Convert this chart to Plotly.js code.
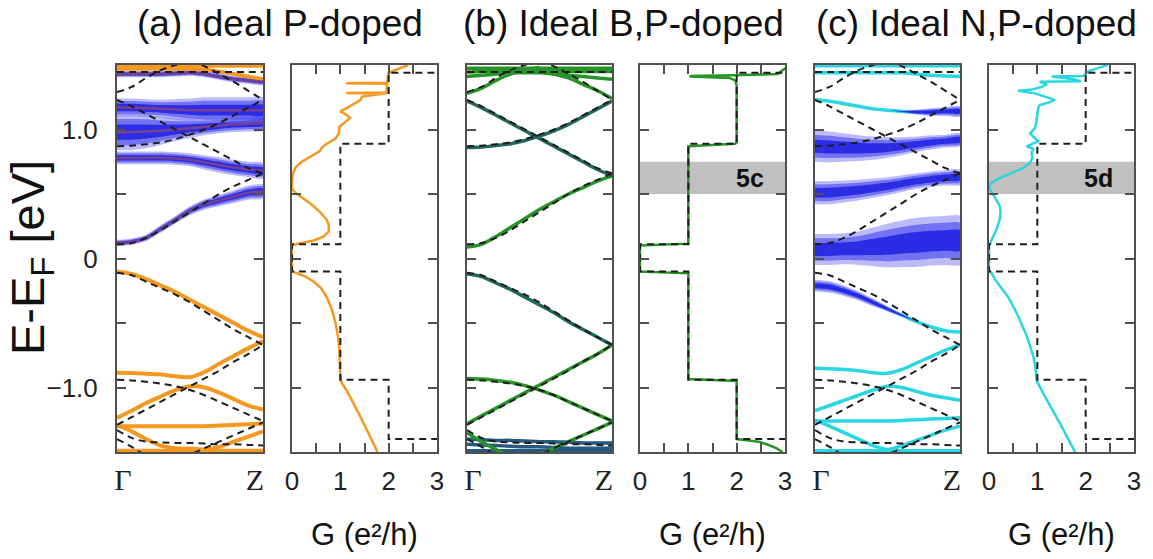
<!DOCTYPE html>
<html><head><meta charset="utf-8">
<script src="https://cdn.plot.ly/plotly-3.0.1.min.js"></script>
<style>html,body{margin:0;padding:0;background:#fff}#chart{width:1153px;height:559px}</style>
</head><body><div id="chart"></div>
<script>
// ---------------- DATA ----------------
const panelTitles = ['(a) Ideal P-doped', '(b) Ideal B,P-doped', '(c) Ideal N,P-doped'];
const bandTickText = ['Γ', 'Z'];
const gTickVals = [0, 1, 2, 3];
const gTickText = ['0', '1', '2', '3'];
const gMinorTicks = [0.5, 1.5, 2.5];
const eTickVals = [-1, 0, 1];
const eTickText = ['\u22121.0', '0', '1.0'];
const eMinorTicks = [-0.5, 0.5];
const windowLabels = ['5c', '5d'];
const highlightWindow = [0.5, 0.75];
const gAxisTitle = 'G (e\u00B2/h)';
const eAxisTitle = 'E-E<sub>F</sub> [eV]';

const kGrid = [0, 0.1, 0.2, 0.3, 0.4, 0.5, 0.6, 0.7, 0.8, 0.9, 1.0];
const kFirstHalf = [0, 0.1, 0.2, 0.3, 0.4, 0.5];
const kSecondHalf = [0.5, 0.6, 0.7, 0.8, 0.9, 1.0];
const kStart = [0, 0.1, 0.2, 0.25];
const kEnd = [0.45, 0.5, 0.6, 0.7, 0.8, 0.9, 1.0];

// pristine (dashed) bands, E (eV) on kGrid unless noted
const pristineC1 = [0.11, 0.12, 0.16, 0.22, 0.29, 0.36, 0.43, 0.50, 0.56, 0.61, 0.66];
const pristineC2 = [1.23, 1.18, 1.12, 1.06, 1.00, 0.94, 0.88, 0.82, 0.76, 0.70, 0.66];
const pristineC3 = [0.87, 0.875, 0.885, 0.90, 0.925, 0.96, 1.00, 1.05, 1.11, 1.17, 1.23];
const pristineC4 = [1.29, 1.33, 1.40, 1.46, 1.50, 1.53];            // kFirstHalf
const pristineC5 = [1.53, 1.49, 1.43, 1.37, 1.30, 1.23];            // kSecondHalf
const pristineC6 = [1.445, 1.445, 1.445, 1.445, 1.445, 1.445, 1.445, 1.445, 1.445, 1.445, 1.445];
const pristineV1 = [-0.11, -0.13, -0.18, -0.23, -0.28, -0.34, -0.41, -0.48, -0.55, -0.61, -0.67];
const pristineV2 = [-0.94, -0.945, -0.955, -0.97, -0.99, -1.02, -1.06, -1.11, -1.16, -1.21, -1.26];
const pristineV3 = [-1.29, -1.23, -1.17, -1.11, -1.05, -0.99, -0.93, -0.87, -0.80, -0.74, -0.67];
const pristineV4 = [-1.33, -1.39, -1.42, -1.425, -1.43, -1.43, -1.435, -1.44, -1.44, -1.445, -1.45];
const pristineV5 = [-1.55, -1.52, -1.47, -1.42, -1.37, -1.32, -1.27];  // kEnd
const pristineV6 = [-1.40, -1.46, -1.53, -1.56];                       // kStart

// pristine conductance (staircase)
const gPristineE = [-1.5, -1.40, -1.40, -0.94, -0.94, -0.10, -0.10, 0.11, 0.11, 0.89, 0.89, 1.44, 1.44, 1.5];
const gPristineG = [4, 4, 2, 2, 1, 1, 0, 0, 1, 1, 2, 2, 4, 4];

// (a) P-doped bands
const aV1 = [-0.10, -0.12, -0.16, -0.21, -0.26, -0.32, -0.38, -0.44, -0.50, -0.56, -0.61];
const aV2 = [-0.885, -0.887, -0.893, -0.90, -0.912, -0.92, -0.88, -0.815, -0.755, -0.695, -0.64];
const aV3 = [-1.235, -1.18, -1.12, -1.07, -1.02, -0.99, -1.00, -1.04, -1.09, -1.14, -1.17];
const aV4 = [-1.30, -1.30, -1.30, -1.30, -1.30, -1.30, -1.30, -1.295, -1.29, -1.285, -1.28];
const aV5 = [-1.29, -1.34, -1.40, -1.45, -1.47, -1.475, -1.48, -1.46, -1.42, -1.38, -1.34];
const aV6 = [-1.49, -1.49, -1.49, -1.49, -1.49, -1.49, -1.49, -1.49, -1.49, -1.49, -1.49];
const aTop1 = [1.47, 1.47, 1.47, 1.47, 1.47, 1.47, 1.465, 1.45, 1.43, 1.41, 1.39];
const aTop2 = [1.495, 1.495, 1.495, 1.495, 1.495, 1.495, 1.495, 1.495, 1.495, 1.495, 1.495];
const aP1 = [0.12, 0.13, 0.16, 0.23, 0.30, 0.37, 0.42, 0.45, 0.48, 0.51, 0.52];
const aP1w = [0.025, 0.025, 0.025, 0.03, 0.03, 0.035, 0.04, 0.045, 0.05, 0.055, 0.055];
const aP2 = [0.78, 0.78, 0.78, 0.78, 0.775, 0.765, 0.745, 0.725, 0.705, 0.69, 0.68];
const aP2w = [0.05, 0.05, 0.05, 0.05, 0.05, 0.05, 0.055, 0.06, 0.06, 0.06, 0.06];
const aP3 = [0.98, 0.98, 0.985, 0.99, 1.0, 1.01, 1.02, 1.03, 1.04, 1.045, 1.05];
const aP3w = [0.14, 0.14, 0.13, 0.11, 0.09, 0.075, 0.065, 0.06, 0.06, 0.06, 0.06];
const aP4 = [1.17, 1.17, 1.165, 1.16, 1.155, 1.15, 1.15, 1.15, 1.15, 1.15, 1.15];
const aP4w = [0.07, 0.07, 0.07, 0.07, 0.08, 0.09, 0.10, 0.10, 0.10, 0.10, 0.10];
const aP5 = [1.43, 1.43, 1.43, 1.43, 1.435, 1.44, 1.43, 1.41, 1.39, 1.38, 1.37];
const aP5w = [0.025, 0.025, 0.025, 0.025, 0.025, 0.025, 0.025, 0.025, 0.025, 0.025, 0.025];
// (a) conductance
const gAE = [-1.50, -1.35, -1.2, -1.05, -0.95, -0.85, -0.7, -0.6, -0.5, -0.4, -0.3, -0.23, -0.18, -0.14, -0.115, -0.10, 0.10, 0.115, 0.14, 0.17, 0.21, 0.26, 0.30, 0.36, 0.42, 0.47, 0.51, 0.54, 0.60, 0.66, 0.71, 0.75, 0.79, 0.83, 0.86, 0.89, 0.93, 0.97, 1.02, 1.06, 1.09, 1.12, 1.14, 1.17, 1.20, 1.23, 1.255, 1.27, 1.275, 1.28, 1.283, 1.287, 1.30, 1.33, 1.355, 1.358, 1.362, 1.40, 1.44, 1.47, 1.50];
const gAG = [1.77, 1.58, 1.38, 1.17, 1.01, 0.99, 0.98, 0.95, 0.90, 0.83, 0.72, 0.60, 0.45, 0.28, 0.10, 0.0, 0.0, 0.12, 0.45, 0.65, 0.76, 0.76, 0.72, 0.58, 0.40, 0.22, 0.07, 0.0, 0.0, 0.02, 0.08, 0.20, 0.40, 0.57, 0.62, 0.72, 0.90, 0.97, 0.98, 1.10, 1.20, 1.10, 1.00, 1.15, 1.30, 1.42, 1.45, 1.80, 1.96, 1.96, 1.12, 1.96, 1.96, 1.97, 1.97, 1.12, 1.97, 1.98, 2.0, 2.2, 2.4];

// (b) B,P-doped bands
const bC1 = [0.09, 0.11, 0.17, 0.24, 0.31, 0.38, 0.44, 0.50, 0.55, 0.60, 0.64];
const bC2 = [1.22, 1.17, 1.11, 1.05, 0.99, 0.93, 0.87, 0.81, 0.75, 0.69, 0.64];
const bC3 = [0.86, 0.865, 0.875, 0.89, 0.915, 0.95, 0.99, 1.04, 1.10, 1.16, 1.22];
const bC4 = [1.28, 1.32, 1.38, 1.43, 1.46, 1.48];                       // kFirstHalf
const bC5 = [1.46, 1.43, 1.40, 1.35, 1.30, 1.24];                       // kSecondHalf
const bT1 = [1.41, 1.42, 1.43, 1.44, 1.44, 1.44, 1.43, 1.42, 1.41, 1.40, 1.39];
const bT2 = [1.445, 1.45, 1.45, 1.45, 1.45, 1.45, 1.45, 1.45, 1.45, 1.45, 1.45];
const bT3 = [1.475, 1.475, 1.475, 1.475, 1.475, 1.475, 1.475, 1.475, 1.475, 1.475, 1.475];
const bV1 = [-0.12, -0.14, -0.19, -0.24, -0.30, -0.36, -0.42, -0.49, -0.55, -0.61, -0.67];
const bV2 = [-0.93, -0.935, -0.945, -0.96, -0.985, -1.02, -1.06, -1.11, -1.16, -1.21, -1.26];
const bV3 = [-1.28, -1.22, -1.16, -1.10, -1.04, -0.98, -0.92, -0.86, -0.80, -0.74, -0.67];
const bV4 = [-1.35, -1.42, -1.48, -1.51];                               // kStart
const bV5 = [-1.55, -1.52, -1.47, -1.42, -1.37, -1.32, -1.27];          // kEnd
const bB1 = [-1.40, -1.405, -1.41, -1.41, -1.415, -1.42, -1.42, -1.425, -1.43, -1.43, -1.43];
const bB2 = [-1.44, -1.445, -1.45, -1.455, -1.46, -1.46, -1.465, -1.47, -1.47, -1.47, -1.47];
const bB3 = [-1.49, -1.49, -1.49, -1.49, -1.49, -1.49, -1.49, -1.49, -1.49, -1.49, -1.49];
// (b) conductance
const gBE = [-1.50, -1.47, -1.44, -1.42, -1.41, -1.405, -1.40, -0.95, -0.945, -0.94, -0.935, -0.115, -0.105, -0.10, 0.10, 0.105, 0.115, 0.87, 0.88, 0.89, 0.90, 1.34, 1.38, 1.40, 1.41, 1.415, 1.42, 1.43, 1.46, 1.50];
const gBG = [2.95, 2.82, 2.62, 2.45, 2.25, 2.05, 2.0, 2.0, 1.6, 1.02, 1.0, 1.0, 0.5, 0.0, 0.0, 0.5, 1.0, 1.0, 1.5, 1.97, 2.0, 2.0, 1.97, 1.85, 1.05, 1.03, 1.9, 2.85, 2.95, 3.1];

// (c) N,P-doped bands
const cTop1 = [1.44, 1.44, 1.44, 1.44, 1.44, 1.44, 1.44, 1.43, 1.42, 1.415, 1.41];
const cTop2 = [1.495, 1.495, 1.495, 1.495, 1.495, 1.495, 1.495, 1.495, 1.495, 1.495, 1.495];
const cC2 = [1.23, 1.22, 1.20, 1.18, 1.16, 1.15, 1.14, 1.135, 1.135, 1.14, 1.14];
const cC2w = [0, 0, 0, 0, 0, 0, 0.005, 0.02, 0.03, 0.035, 0.04];
const cB1 = [0.87, 0.865, 0.86, 0.855, 0.855, 0.86, 0.87, 0.885, 0.90, 0.91, 0.92];
const cB1w = [0.12, 0.12, 0.11, 0.10, 0.09, 0.08, 0.07, 0.06, 0.055, 0.05, 0.05];
const cB2 = [0.51, 0.51, 0.52, 0.53, 0.545, 0.56, 0.58, 0.60, 0.615, 0.625, 0.63];
const cB2w = [0.09, 0.09, 0.085, 0.08, 0.075, 0.07, 0.065, 0.06, 0.06, 0.06, 0.06];
const cB3 = [0.07, 0.07, 0.075, 0.08, 0.09, 0.10, 0.115, 0.125, 0.135, 0.14, 0.14];
const cB3w = [0.12, 0.12, 0.12, 0.13, 0.15, 0.17, 0.18, 0.19, 0.19, 0.19, 0.19];
const cBV = [-0.21, -0.22, -0.25, -0.29, -0.34, -0.39, -0.44, -0.49, -0.53, -0.56, -0.57];
const cBVw = [0.045, 0.045, 0.04, 0.035, 0.03, 0.02, 0.01, 0, 0, 0, 0];
const cV2 = [-0.85, -0.855, -0.86, -0.87, -0.885, -0.89, -0.86, -0.81, -0.76, -0.71, -0.67];
const cV3 = [-1.18, -1.14, -1.10, -1.06, -1.02, -0.99, -1.00, -1.03, -1.06, -1.08, -1.10];
const cV4 = [-1.26, -1.26, -1.26, -1.26, -1.26, -1.26, -1.255, -1.25, -1.245, -1.24, -1.235];
const cV5 = [-1.25, -1.30, -1.35, -1.40, -1.45, -1.48, -1.45, -1.41, -1.37, -1.33, -1.30];
const cV6 = [-1.49, -1.49, -1.49, -1.49, -1.49, -1.49, -1.49, -1.49, -1.49, -1.49, -1.49];
// (c) conductance
const gCE = [-1.50, -1.3, -1.1, -0.95, -0.85, -0.76, -0.6, -0.42, -0.3, -0.2, -0.16, -0.11, -0.10, 0.10, 0.11, 0.15, 0.22, 0.30, 0.36, 0.41, 0.47, 0.52, 0.55, 0.58, 0.62, 0.66, 0.70, 0.74, 0.78, 0.82, 0.85, 0.87, 0.89, 0.91, 0.94, 0.97, 1.01, 1.06, 1.12, 1.17, 1.19, 1.21, 1.23, 1.25, 1.28, 1.30, 1.31, 1.33, 1.35, 1.37, 1.375, 1.39, 1.41, 1.415, 1.43, 1.45, 1.47, 1.49, 1.50];
const gCG = [1.78, 1.50, 1.20, 0.99, 0.96, 0.92, 0.78, 0.57, 0.40, 0.20, 0.12, 0.05, 0.0, 0.0, 0.02, 0.06, 0.15, 0.22, 0.24, 0.22, 0.12, 0.04, 0.0, 0.03, 0.20, 0.45, 0.70, 0.85, 0.90, 0.88, 0.92, 0.78, 0.92, 1.02, 0.93, 0.85, 0.95, 0.98, 1.0, 1.02, 1.05, 1.25, 1.36, 1.2, 0.95, 0.6, 0.9, 1.09, 1.2, 1.05, 1.9, 1.75, 1.3, 1.95, 2.0, 2.05, 2.2, 2.4, 2.45];

// ---------------- STYLE / LAYOUT ----------------
const W = 1153, H = 559;
const panelPx = [[117, 263], [292, 437], [467, 612], [640, 785], [815, 960], [989, 1134]];
const plotTopPx = 65, plotBottomPx = 452;
const yDomain = [1 - plotBottomPx / H, 1 - plotTopPx / H];

const ORANGE = 'rgb(244,152,32)';
const PURPLE = 'rgb(118,64,146)';
const GREEN = 'rgb(38,148,38)';
const TEAL = 'rgb(32,104,92)';
const BLUETEAL = 'rgb(38,88,128)';
const CYAN = 'rgb(42,214,226)';
const DASH = 'rgb(30,30,30)';
const AXIS = 'rgb(80,80,80)';

function ax(n) { return n === 1 ? '' : String(n); }
const traces = [];
function line(n, k, e, color, width) {
  traces.push({
    type: 'scatter', mode: 'lines', x: k, y: e, xaxis: 'x' + ax(n), yaxis: 'y' + ax(n),
    line: { color: color, width: width, shape: 'spline', smoothing: 1 },
    hoverinfo: 'skip', showlegend: false
  });
}
function dashed(n, k, e) {
  traces.push({
    type: 'scatter', mode: 'lines', x: k, y: e, xaxis: 'x' + ax(n), yaxis: 'y' + ax(n),
    line: { color: DASH, width: 2, dash: '7px,5px', shape: 'spline', smoothing: 1 },
    hoverinfo: 'skip', showlegend: false
  });
}
function fat(n, k, e, w) {
  const layers = [[1.0, 'rgba(120,120,246,0.50)'], [0.72, 'rgba(65,65,236,0.60)'], [0.42, 'rgba(22,22,224,0.75)']];
  layers.forEach(function (L) {
    const up = e.map(function (v, i) { return v + w[i] * L[0]; });
    const dn = e.map(function (v, i) { return v - w[i] * L[0]; });
    traces.push({
      type: 'scatter', mode: 'lines', x: k.concat(k.slice().reverse()), y: up.concat(dn.slice().reverse()),
      xaxis: 'x' + ax(n), yaxis: 'y' + ax(n), fill: 'toself', fillcolor: L[1],
      line: { width: 0, shape: 'spline', smoothing: 0.6 }, hoverinfo: 'skip', showlegend: false
    });
  });
}
function pristineBands(n) {
  dashed(n, kGrid, pristineC1); dashed(n, kGrid, pristineC2); dashed(n, kGrid, pristineC3);
  dashed(n, kFirstHalf, pristineC4); dashed(n, kSecondHalf, pristineC5); dashed(n, kGrid, pristineC6);
  dashed(n, kGrid, pristineV1); dashed(n, kGrid, pristineV2); dashed(n, kGrid, pristineV3);
  dashed(n, kGrid, pristineV4); dashed(n, kEnd, pristineV5); dashed(n, kStart, pristineV6);
}
function gPanel(n, E, G, color) {
  traces.push({ type: 'scatter', mode: 'lines', x: G, y: E, xaxis: 'x' + ax(n), yaxis: 'y' + ax(n),
    line: { color: color, width: 2.5 }, hoverinfo: 'skip', showlegend: false });
  traces.push({ type: 'scatter', mode: 'lines', x: gPristineG, y: gPristineE, xaxis: 'x' + ax(n), yaxis: 'y' + ax(n),
    line: { color: DASH, width: 2, dash: '7px,5px' }, hoverinfo: 'skip', showlegend: false });
}

// Panel 1: (a) bands
fat(1, kGrid, aP1, aP1w); fat(1, kGrid, aP2, aP2w); fat(1, kGrid, aP3, aP3w); fat(1, kGrid, aP4, aP4w); fat(1, kGrid, aP5, aP5w);
[aV1, aV2, aV3, aV4, aV5, aV6, aTop1, aTop2].forEach(function (e) { line(1, kGrid, e, ORANGE, 4); });
[aP1, aP2, aP3, aP4, aP5].forEach(function (e) { line(1, kGrid, e, PURPLE, 2.5); });
pristineBands(1);
// Panel 2: (a) conductance
gPanel(2, gAE, gAG, ORANGE);
// Panel 3: (b) bands
[bB1, bB2, bB3].forEach(function (e) { line(3, kGrid, e, BLUETEAL, 3.5); });
[bT1, bT2, bT3, bC1, bV2, bV3].forEach(function (e) { line(3, kGrid, e, GREEN, 3.5); });
line(3, kFirstHalf, bC4, GREEN, 3.5); line(3, kSecondHalf, bC5, GREEN, 3.5);
line(3, kStart, bV4, GREEN, 3.5); line(3, kEnd, bV5, GREEN, 3.5);
line(3, kGrid, bC2, TEAL, 3.5); line(3, kGrid, bC3, TEAL, 3.5); line(3, kGrid, bV1, TEAL, 3.5);
pristineBands(3);
// Panel 4: (b) conductance
gPanel(4, gBE, gBG, GREEN);
// Panel 5: (c) bands
[cTop1, cTop2, cC2, cBV, cV2, cV3, cV4, cV5, cV6].forEach(function (e) { line(5, kGrid, e, CYAN, 3.5); });
fat(5, kGrid, cC2, cC2w); fat(5, kGrid, cB1, cB1w); fat(5, kGrid, cB2, cB2w); fat(5, kGrid, cB3, cB3w); fat(5, kGrid, cBV, cBVw);
pristineBands(5);
// Panel 6: (c) conductance
gPanel(6, gCE, gCG, CYAN);

const frame = {
  showline: true, linecolor: AXIS, linewidth: 2, mirror: 'allticks',
  ticks: 'inside', ticklen: 9, tickwidth: 2, tickcolor: AXIS,
  showgrid: false, zeroline: false, fixedrange: true
};
const layout = {
  width: W, height: H, margin: { l: 0, r: 0, t: 0, b: 0 },
  paper_bgcolor: '#fff', plot_bgcolor: '#fff', showlegend: false,
  font: { family: 'Liberation Sans, Arial, sans-serif', color: '#222' },
  shapes: [], annotations: []
};
for (let n = 1; n <= 6; n++) {
  const p = panelPx[n - 1];
  const isBand = (n % 2 === 1);
  const xa = Object.assign({}, frame, {
    domain: [p[0] / W, p[1] / W], anchor: 'y' + ax(n)
  });
  if (isBand) {
    Object.assign(xa, { range: [0, 1], ticks: '', tickmode: 'array', tickvals: [0.04, 0.945], ticktext: bandTickText,
      tickfont: { family: 'Liberation Serif, Times New Roman, serif', size: 30, color: '#222' }, ticklabelstandoff: 0 });
  } else {
    Object.assign(xa, { range: [0, 3], tickmode: 'array', tickvals: gTickVals, ticktext: gTickText,
      tickfont: { size: 26, color: '#222' }, ticklabelstandoff: 5,
      minor: { tickmode: 'array', tickvals: gMinorTicks, ticks: 'inside', ticklen: 9, tickwidth: 2, tickcolor: AXIS } });
  }
  const ya = Object.assign({}, frame, {
    domain: yDomain, anchor: 'x' + ax(n), range: [-1.5, 1.5], tickmode: 'array', tickvals: eTickVals, ticktext: eTickText,
    showticklabels: n === 1, tickfont: { size: 26, color: '#222' }, ticklabelstandoff: 12,
    minor: { tickmode: 'array', tickvals: eMinorTicks, ticks: 'inside', ticklen: 9, tickwidth: 2, tickcolor: AXIS }
  });
  layout['xaxis' + ax(n)] = xa;
  layout['yaxis' + ax(n)] = ya;
}
// highlighted energy windows in (b) and (c) conductance panels
[4, 6].forEach(function (n, i) {
  layout.shapes.push({ type: 'rect', xref: 'x' + n + ' domain', yref: 'y' + n, x0: 0, x1: 1,
    y0: highlightWindow[0], y1: highlightWindow[1], fillcolor: 'rgb(192,192,192)', line: { width: 0 }, layer: 'below' });
  layout.annotations.push({ xref: 'x' + n, yref: 'y' + n, x: 2.27, y: 0.625, text: windowLabels[i],
    showarrow: false, font: { size: 25, color: '#111', weight: 'bold' }, xanchor: 'center', yanchor: 'middle' });
});
// panel titles
const titleCentersPx = [280, 623, 976];
panelTitles.forEach(function (t, i) {
  layout.annotations.push({ xref: 'paper', yref: 'paper', x: titleCentersPx[i] / W, y: 1 - 23 / H, text: t,
    showarrow: false, font: { size: 37, color: '#111' }, xanchor: 'center', yanchor: 'middle' });
});
// axis titles
layout.annotations.push({ xref: 'paper', yref: 'paper', x: 31 / W, y: 1 - 258 / H, text: eAxisTitle,
  textangle: -90, showarrow: false, font: { size: 47, color: '#111' }, xanchor: 'center', yanchor: 'middle' });
[2, 4, 6].forEach(function (n) {
  const p = panelPx[n - 1];
  layout.annotations.push({ xref: 'paper', yref: 'paper', x: (p[0] + p[1]) / 2 / W, y: 1 - 534 / H,
    text: gAxisTitle, showarrow: false, font: { size: 31, color: '#111' }, xanchor: 'center', yanchor: 'middle' });
});

Plotly.newPlot('chart', traces, layout, { staticPlot: true, displayModeBar: false });
</script>
</body></html>
